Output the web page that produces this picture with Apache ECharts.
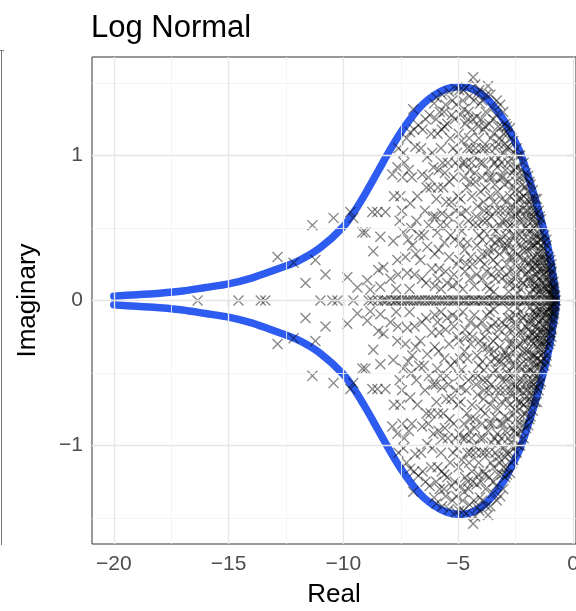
<!DOCTYPE html>
<html>
<head>
<meta charset="utf-8">
<script src="https://cdn.jsdelivr.net/npm/echarts@6/dist/echarts.min.js"></script>
<style>html,body{margin:0;padding:0;background:#fff}#c{width:576px;height:611px}</style>
</head>
<body>
<div id="c"></div>
<script>
// ---- data ----
var titleText = 'Log Normal';
var xTicks = [-20, -15, -10, -5, 0];
var yTicks = [-1, 0, 1];
var xMinor = [-17.5, -12.5, -7.5, -2.5];
var yMinor = [-1.5, -0.5, 0.5, 1.5];

// boundary curve (upper and lower branches)
var curveUpper = [[-20,0.03],[-19,0.04],[-18,0.05],[-17,0.065],[-16,0.09],[-15,0.115],[-14,0.155],[-13,0.21],[-12,0.27],[-11,0.365],[-10,0.51],[-9.5,0.62],[-9,0.75],[-8.5,0.89],[-8,1.03],[-7.5,1.16],[-7,1.27],[-6.5,1.36],[-6,1.42],[-5.5,1.46],[-5,1.475],[-4.6,1.47],[-4.2,1.445],[-3.8,1.40],[-3.4,1.33],[-3,1.24],[-2.6,1.12],[-2.3,1.02],[-2,0.88],[-1.7,0.73],[-1.43,0.58],[-1.2,0.44],[-1.0,0.30],[-0.87,0.17],[-0.78,0.08],[-0.72,0.0]];
var curveLower = [[-20,-0.03],[-19,-0.04],[-18,-0.05],[-17,-0.065],[-16,-0.09],[-15,-0.115],[-14,-0.155],[-13,-0.21],[-12,-0.27],[-11,-0.365],[-10,-0.51],[-9.5,-0.62],[-9,-0.75],[-8.5,-0.89],[-8,-1.03],[-7.5,-1.16],[-7,-1.27],[-6.5,-1.36],[-6,-1.42],[-5.5,-1.46],[-5,-1.475],[-4.6,-1.47],[-4.2,-1.445],[-3.8,-1.40],[-3.4,-1.33],[-3,-1.24],[-2.6,-1.12],[-2.3,-1.02],[-2,-0.88],[-1.7,-0.73],[-1.43,-0.58],[-1.2,-0.44],[-1.0,-0.30],[-0.87,-0.17],[-0.78,-0.08],[-0.72,0.0]];

// eigenvalues on the real axis
var realPts = [[-16.35,0],[-14.57,0],[-13.6,0],[-13.4,0],[-11.0,0],[-10.48,0],[-10.26,0],[-9.57,0],[-8.9,0],[-8.74,0],[-8.5,0],[-8.3,0],[-8.2,0],[-8.1,0],[-7.9,0],[-7.75,0],[-7.7,0],[-7.6,0],[-7.45,0],[-7.3,0],[-7.2,0],[-7.1,0],[-6.95,0],[-6.8,0],[-6.7,0],[-6.6,0],[-6.45,0],[-6.3,0],[-6.2,0],[-6.1,0],[-5.95,0],[-5.8,0],[-5.7,0],[-5.6,0],[-5.45,0],[-5.3,0],[-5.2,0],[-5.15,0],[-5.0,0],[-4.85,0],[-4.75,0],[-4.7,0],[-4.55,0],[-4.4,0],[-4.3,0],[-4.25,0],[-4.1,0],[-3.95,0],[-3.9,0],[-3.8,0],[-3.65,0],[-3.5,0],[-3.45,0],[-3.35,0],[-3.2,0],[-3.05,0],[-3.0,0],[-2.9,0],[-2.75,0],[-2.6,0],[-2.55,0],[-2.45,0],[-2.3,0],[-2.15,0],[-2.1,0],[-2.0,0],[-1.85,0],[-1.7,0],[-1.65,0],[-1.55,0],[-1.4,0],[-1.25,0],[-1.2,0],[-1.1,0],[-0.95,0],[-0.85,0],[-0.8,0],[-0.75,0]];

// complex eigenvalues, upper half-plane
var upperPts = [
[-12.87,0.30],[-12.17,0.26],[-11.22,0.28],[-11.35,0.52],[-11.65,0.12],[-10.78,0.18],[-10.43,0.57],[-9.83,0.16],[-9.70,0.61],[-9.57,0.57],[-9.39,0.09],[-9.17,0.47],[-8.83,0.075],[-8.74,0.61],[-8.70,0.34],[-8.48,0.21],
[-8.52,0.61],[-8.17,0.61],[-9.04,0.47],[-8.39,0.44],[-8.26,0.23],[-8.96,0.14],[-8.39,0.095],
[-7.65,0.92],[-7.87,0.87],[-7.43,0.85],[-7.52,0.72],[-7.09,0.67],[-7.83,0.41],[-7.39,0.47],[-7.65,0.28],[-7.22,0.19],[-7.39,1.02],[-7.09,1.16],[-7.95,0.15],[-7.7,0.08],[-7.55,0.55],[-7.3,0.3],[-7.15,0.9],[-7.8,0.72],[-7.25,1.12],[-7.6,1.05],[-7.05,0.5],
[-6.96,1.32],[-6.74,1.21],[-6.87,1.06],[-6.57,0.87],[-6.35,0.99],[-6.13,1.02],[-7.0,0.38],[-6.65,0.28],[-6.35,0.37],[-6.82,0.55],[-6.45,0.62],[-6.2,0.78],[-6.55,1.18],[-6.25,1.28],[-6.05,1.36],[-6.9,0.18],[-6.4,0.12],[-6.15,0.22],[-6.7,0.45],[-6.1,0.58],[-6.3,0.85],
[-5.91,0.47],[-5.95,1.40],[-5.8,1.30],[-5.7,1.42],[-5.55,1.35],[-5.4,1.44],[-5.25,1.38],[-5.1,1.46],[-5.9,1.15],[-5.75,1.05],[-5.6,1.2],[-5.35,1.12],[-5.15,1.25],[-5.05,1.02],[-5.85,0.9],[-5.65,0.78],[-5.45,0.95],[-5.2,0.85],[-5.95,0.7],[-5.7,0.6],[-5.5,0.52],[-5.3,0.68],[-5.1,0.62],[-5.85,0.35],[-5.6,0.4],[-5.4,0.3],[-5.15,0.42],[-5.9,0.15],[-5.55,0.2],[-5.25,0.1],[-5.05,0.25],[-5.75,0.08],
[-5.98,0.58],[-5.82,0.22],[-5.68,0.95],[-5.52,0.68],[-5.38,0.82],[-5.22,1.05],[-5.08,1.35],[-5.62,1.3],[-5.33,0.45],[-5.18,0.18],[-5.48,1.22],[-5.78,0.52],
[-4.95,1.45],[-4.8,1.38],[-4.65,1.47],[-4.5,1.41],[-4.35,1.54],[-4.26,1.49],[-4.15,1.43],[-4.05,1.36],[-4.9,1.28],[-4.7,1.22],[-4.55,1.3],[-4.4,1.18],[-4.2,1.27],[-4.85,1.1],[-4.6,1.05],[-4.3,1.0],[-4.1,1.12],[-4.95,0.92],[-4.75,0.85],[-4.5,0.9],[-4.25,0.82],[-4.05,0.95],[-4.9,0.7],[-4.65,0.62],[-4.4,0.72],[-4.15,0.65],[-4.85,0.48],[-4.6,0.4],[-4.35,0.52],[-4.1,0.45],[-4.95,0.28],[-4.7,0.2],[-4.45,0.3],[-4.2,0.18],[-4.8,0.08],[-4.3,0.1],[-4.05,0.28],
[-4.98,1.15],[-4.88,0.6],[-4.78,1.45],[-4.62,0.78],[-4.52,1.12],[-4.42,0.95],[-4.32,1.38],[-4.22,0.58],[-4.12,1.2],[-4.02,0.75],[-4.72,0.35],[-4.48,0.15],[-4.18,0.38],[-4.58,1.25],[-4.92,0.4],[-4.38,0.25],[-4.08,1.45],[-4.68,0.95],
[-3.95,1.38],[-3.7,1.48],[-3.6,1.42],[-3.8,1.3],[-3.5,1.33],[-3.35,1.28],[-3.17,1.35],[-3.04,1.3],[-3.1,1.2],[-3.9,1.18],[-3.65,1.22],[-3.45,1.15],[-3.25,1.08],[-3.85,1.05],[-3.55,0.98],[-3.3,0.92],[-3.05,1.02],[-3.95,0.85],[-3.7,0.9],[-3.4,0.8],[-3.15,0.85],[-3.9,0.68],[-3.6,0.72],[-3.35,0.62],[-3.1,0.7],[-3.75,0.55],[-3.5,0.5],[-3.2,0.52],[-3.95,0.42],[-3.65,0.35],[-3.4,0.4],[-3.05,0.38],[-3.85,0.25],[-3.55,0.18],[-3.3,0.25],[-3.1,0.15],[-3.75,0.1],[-3.45,0.06],[-3.95,0.15],[-3.2,0.32],
[-3.98,1.05],[-3.88,0.48],[-3.78,1.42],[-3.68,0.62],[-3.58,1.12],[-3.48,0.28],[-3.38,1.05],[-3.28,0.75],[-3.18,1.12],[-3.08,0.55],[-3.82,0.78],[-3.62,0.08],[-3.42,0.95],[-3.22,0.2],[-3.72,0.32],[-3.52,0.85],[-3.32,1.38],[-3.12,0.95],[-3.92,0.55],[-3.02,1.15],[-3.45,0.68],[-3.25,0.42],
[-2.95,1.22],[-2.85,1.15],[-2.74,1.19],[-2.6,1.1],[-2.45,1.05],[-2.3,1.0],[-2.15,0.95],[-2.05,0.88],[-2.9,1.05],[-2.7,0.98],[-2.5,0.92],[-2.35,0.85],[-2.2,0.8],[-2.95,0.9],[-2.8,0.82],[-2.6,0.78],[-2.4,0.7],[-2.1,0.68],[-2.9,0.68],[-2.7,0.62],[-2.5,0.58],[-2.3,0.55],[-2.05,0.5],[-2.85,0.5],[-2.65,0.45],[-2.45,0.4],[-2.25,0.38],[-2.95,0.35],[-2.75,0.3],[-2.55,0.25],[-2.35,0.22],[-2.15,0.28],[-2.9,0.18],[-2.7,0.12],[-2.5,0.1],[-2.2,0.12],[-2.05,0.18],[-2.8,0.06],[-2.4,0.05],[-2.6,0.35],[-2.35,0.62],[-2.15,0.42],[-2.55,0.75],[-2.25,0.9],[-2.75,0.72],
[-2.98,0.8],[-2.88,1.2],[-2.78,0.4],[-2.68,1.12],[-2.58,0.52],[-2.48,0.82],[-2.38,1.0],[-2.28,0.7],[-2.18,0.55],[-2.08,0.78],[-2.92,0.55],[-2.82,0.95],[-2.72,0.2],[-2.62,0.65],[-2.52,0.15],[-2.42,0.32],[-2.32,0.45],[-2.22,0.22],[-2.12,0.85],[-2.02,0.35],[-2.88,0.25],[-2.58,1.02],[-2.42,0.92],[-2.98,1.08],[-2.65,0.88],[-2.28,0.08],
[-1.95,0.86],[-1.85,0.8],[-1.75,0.76],[-1.65,0.7],[-1.57,0.70],[-1.5,0.62],[-1.4,0.56],[-1.35,0.47],[-1.25,0.45],[-1.15,0.38],[-1.09,0.21],[-1.05,0.3],[-1.9,0.68],[-1.8,0.62],[-1.7,0.58],[-1.6,0.52],[-1.45,0.45],[-1.3,0.36],[-1.2,0.28],[-1.95,0.55],[-1.85,0.48],[-1.75,0.42],[-1.65,0.38],[-1.55,0.32],[-1.4,0.3],[-1.3,0.22],[-1.15,0.15],[-1.9,0.35],[-1.8,0.28],[-1.7,0.22],[-1.6,0.18],[-1.5,0.15],[-1.35,0.12],[-1.25,0.08],[-1.1,0.06],[-1.95,0.2],[-1.85,0.12],[-1.75,0.08],[-1.6,0.05],[-1.45,0.06],[-1.55,0.4],[-1.7,0.5],[-1.95,0.42],[-1.25,0.18],[-1.4,0.22],
[-1.98,0.75],[-1.88,0.58],[-1.78,0.7],[-1.68,0.45],[-1.58,0.6],[-1.48,0.52],[-1.38,0.38],[-1.28,0.3],[-1.18,0.22],[-1.08,0.12],[-1.92,0.25],[-1.82,0.38],[-1.72,0.3],[-1.62,0.28],[-1.52,0.24],[-1.42,0.14],[-1.32,0.05],[-1.22,0.35],[-1.12,0.28],[-1.02,0.05],[-1.88,0.05],[-1.78,0.15],[-1.68,0.12],[-1.58,0.1],[-1.48,0.35],[-1.38,0.08],[-1.98,0.62],[-1.9,0.82],[-1.65,0.62],[-1.45,0.58],
[-0.98,0.22],[-0.92,0.15],[-0.88,0.1],[-0.82,0.06],[-0.95,0.08],[-0.78,0.03],[-1.0,0.12],[-0.9,0.04],
[-0.96,0.18],[-0.9,0.12],[-0.85,0.08],[-0.8,0.04],[-0.94,0.25],[-0.87,0.02]
];
var upperDense = [
[-4.45,1.05],[-4.28,0.88],[-4.14,0.52],[-4.0,1.25],[-3.92,0.95],[-3.86,0.62],[-3.76,0.2],[-3.66,1.05],[-3.56,0.58],[-3.46,1.25],[-3.36,0.48],[-3.26,1.2],[-3.16,0.62],[-3.06,0.85],[-3.96,0.32],[-3.58,0.42],[-3.38,0.15],[-3.14,0.42],[-3.84,1.2],[-3.64,0.85],[-3.44,0.35],[-3.24,0.98],
[-2.96,0.62],[-2.86,0.38],[-2.76,1.05],[-2.66,0.3],[-2.56,0.9],[-2.46,0.6],[-2.36,0.3],[-2.26,0.62],[-2.16,0.12],[-2.06,0.62],[-2.94,0.45],[-2.84,0.12],[-2.64,0.58],[-2.54,0.45],[-2.44,0.18],[-2.34,0.75],[-2.24,0.48],[-2.14,0.72],[-2.04,0.28],[-2.74,0.52],[-2.48,0.68],[-2.18,0.35],
[-1.97,0.48],[-1.87,0.7],[-1.77,0.55],[-1.67,0.25],[-1.57,0.45],[-1.47,0.28],[-1.37,0.2],[-1.27,0.4],[-1.17,0.32],[-1.07,0.18],[-1.93,0.15],[-1.83,0.22],[-1.73,0.38],[-1.63,0.08],[-1.53,0.55],[-1.43,0.42],[-1.33,0.28],[-1.23,0.12],[-1.13,0.08],[-1.03,0.22],[-1.76,0.65],[-1.56,0.2],[-1.36,0.42],[-1.16,0.42],
[-0.99,0.28],[-0.93,0.2],[-0.86,0.13],[-0.83,0.09],[-0.97,0.05]
];
var upperMid = [
[-7.45,0.62],[-7.35,0.95],[-7.18,0.42],[-7.02,0.85],[-6.92,1.18],[-6.85,0.32],[-6.78,0.72],[-6.62,1.05],[-6.5,0.45],[-6.42,1.25],[-6.38,0.78],[-6.28,0.52],[-6.18,1.15],[-6.08,0.92],[-6.02,0.32],[-5.96,1.25],[-5.88,0.78],[-5.72,1.18],[-5.58,0.88],[-5.42,0.58],[-5.28,1.28],[-5.12,0.95],[-5.02,0.72],[-4.96,0.52],[-4.82,0.95],[-4.74,1.32],[-4.56,0.55],[-4.46,0.82],[-4.36,1.25],[-4.24,1.05],[-7.62,0.18],[-7.12,0.08],[-6.58,0.15],[-6.02,0.1],[-5.48,0.12],[-5.02,0.12],[-4.62,0.25]
];

// complex eigenvalues, lower half-plane
var lowerPts = [
[-12.87,-0.30],[-12.17,-0.26],[-11.22,-0.28],[-11.35,-0.52],[-11.65,-0.12],[-10.78,-0.18],[-10.43,-0.57],[-9.83,-0.16],[-9.70,-0.61],[-9.57,-0.57],[-9.39,-0.09],[-9.17,-0.47],[-8.83,-0.075],[-8.74,-0.61],[-8.70,-0.34],[-8.48,-0.21],
[-8.52,-0.61],[-8.17,-0.61],[-9.04,-0.47],[-8.39,-0.44],[-8.26,-0.23],[-8.96,-0.14],[-8.39,-0.095],
[-7.65,-0.92],[-7.87,-0.87],[-7.43,-0.85],[-7.52,-0.72],[-7.09,-0.67],[-7.83,-0.41],[-7.39,-0.47],[-7.65,-0.28],[-7.22,-0.19],[-7.39,-1.02],[-7.09,-1.16],[-7.95,-0.15],[-7.7,-0.08],[-7.55,-0.55],[-7.3,-0.3],[-7.15,-0.9],[-7.8,-0.72],[-7.25,-1.12],[-7.6,-1.05],[-7.05,-0.5],
[-6.96,-1.32],[-6.74,-1.21],[-6.87,-1.06],[-6.57,-0.87],[-6.35,-0.99],[-6.13,-1.02],[-7.0,-0.38],[-6.65,-0.28],[-6.35,-0.37],[-6.82,-0.55],[-6.45,-0.62],[-6.2,-0.78],[-6.55,-1.18],[-6.25,-1.28],[-6.05,-1.36],[-6.9,-0.18],[-6.4,-0.12],[-6.15,-0.22],[-6.7,-0.45],[-6.1,-0.58],[-6.3,-0.85],
[-5.91,-0.47],[-5.95,-1.40],[-5.8,-1.30],[-5.7,-1.42],[-5.55,-1.35],[-5.4,-1.44],[-5.25,-1.38],[-5.1,-1.46],[-5.9,-1.15],[-5.75,-1.05],[-5.6,-1.2],[-5.35,-1.12],[-5.15,-1.25],[-5.05,-1.02],[-5.85,-0.9],[-5.65,-0.78],[-5.45,-0.95],[-5.2,-0.85],[-5.95,-0.7],[-5.7,-0.6],[-5.5,-0.52],[-5.3,-0.68],[-5.1,-0.62],[-5.85,-0.35],[-5.6,-0.4],[-5.4,-0.3],[-5.15,-0.42],[-5.9,-0.15],[-5.55,-0.2],[-5.25,-0.1],[-5.05,-0.25],[-5.75,-0.08],
[-5.98,-0.58],[-5.82,-0.22],[-5.68,-0.95],[-5.52,-0.68],[-5.38,-0.82],[-5.22,-1.05],[-5.08,-1.35],[-5.62,-1.3],[-5.33,-0.45],[-5.18,-0.18],[-5.48,-1.22],[-5.78,-0.52],
[-4.95,-1.45],[-4.8,-1.38],[-4.65,-1.47],[-4.5,-1.41],[-4.35,-1.54],[-4.26,-1.49],[-4.15,-1.43],[-4.05,-1.36],[-4.9,-1.28],[-4.7,-1.22],[-4.55,-1.3],[-4.4,-1.18],[-4.2,-1.27],[-4.85,-1.1],[-4.6,-1.05],[-4.3,-1.0],[-4.1,-1.12],[-4.95,-0.92],[-4.75,-0.85],[-4.5,-0.9],[-4.25,-0.82],[-4.05,-0.95],[-4.9,-0.7],[-4.65,-0.62],[-4.4,-0.72],[-4.15,-0.65],[-4.85,-0.48],[-4.6,-0.4],[-4.35,-0.52],[-4.1,-0.45],[-4.95,-0.28],[-4.7,-0.2],[-4.45,-0.3],[-4.2,-0.18],[-4.8,-0.08],[-4.3,-0.1],[-4.05,-0.28],
[-4.98,-1.15],[-4.88,-0.6],[-4.78,-1.45],[-4.62,-0.78],[-4.52,-1.12],[-4.42,-0.95],[-4.32,-1.38],[-4.22,-0.58],[-4.12,-1.2],[-4.02,-0.75],[-4.72,-0.35],[-4.48,-0.15],[-4.18,-0.38],[-4.58,-1.25],[-4.92,-0.4],[-4.38,-0.25],[-4.08,-1.45],[-4.68,-0.95],
[-3.95,-1.38],[-3.7,-1.48],[-3.6,-1.42],[-3.8,-1.3],[-3.5,-1.33],[-3.35,-1.28],[-3.17,-1.35],[-3.04,-1.3],[-3.1,-1.2],[-3.9,-1.18],[-3.65,-1.22],[-3.45,-1.15],[-3.25,-1.08],[-3.85,-1.05],[-3.55,-0.98],[-3.3,-0.92],[-3.05,-1.02],[-3.95,-0.85],[-3.7,-0.9],[-3.4,-0.8],[-3.15,-0.85],[-3.9,-0.68],[-3.6,-0.72],[-3.35,-0.62],[-3.1,-0.7],[-3.75,-0.55],[-3.5,-0.5],[-3.2,-0.52],[-3.95,-0.42],[-3.65,-0.35],[-3.4,-0.4],[-3.05,-0.38],[-3.85,-0.25],[-3.55,-0.18],[-3.3,-0.25],[-3.1,-0.15],[-3.75,-0.1],[-3.45,-0.06],[-3.95,-0.15],[-3.2,-0.32],
[-3.98,-1.05],[-3.88,-0.48],[-3.78,-1.42],[-3.68,-0.62],[-3.58,-1.12],[-3.48,-0.28],[-3.38,-1.05],[-3.28,-0.75],[-3.18,-1.12],[-3.08,-0.55],[-3.82,-0.78],[-3.62,-0.08],[-3.42,-0.95],[-3.22,-0.2],[-3.72,-0.32],[-3.52,-0.85],[-3.32,-1.38],[-3.12,-0.95],[-3.92,-0.55],[-3.02,-1.15],[-3.45,-0.68],[-3.25,-0.42],
[-2.95,-1.22],[-2.85,-1.15],[-2.74,-1.19],[-2.6,-1.1],[-2.45,-1.05],[-2.3,-1.0],[-2.15,-0.95],[-2.05,-0.88],[-2.9,-1.05],[-2.7,-0.98],[-2.5,-0.92],[-2.35,-0.85],[-2.2,-0.8],[-2.95,-0.9],[-2.8,-0.82],[-2.6,-0.78],[-2.4,-0.7],[-2.1,-0.68],[-2.9,-0.68],[-2.7,-0.62],[-2.5,-0.58],[-2.3,-0.55],[-2.05,-0.5],[-2.85,-0.5],[-2.65,-0.45],[-2.45,-0.4],[-2.25,-0.38],[-2.95,-0.35],[-2.75,-0.3],[-2.55,-0.25],[-2.35,-0.22],[-2.15,-0.28],[-2.9,-0.18],[-2.7,-0.12],[-2.5,-0.1],[-2.2,-0.12],[-2.05,-0.18],[-2.8,-0.06],[-2.4,-0.05],[-2.6,-0.35],[-2.35,-0.62],[-2.15,-0.42],[-2.55,-0.75],[-2.25,-0.9],[-2.75,-0.72],
[-2.98,-0.8],[-2.88,-1.2],[-2.78,-0.4],[-2.68,-1.12],[-2.58,-0.52],[-2.48,-0.82],[-2.38,-1.0],[-2.28,-0.7],[-2.18,-0.55],[-2.08,-0.78],[-2.92,-0.55],[-2.82,-0.95],[-2.72,-0.2],[-2.62,-0.65],[-2.52,-0.15],[-2.42,-0.32],[-2.32,-0.45],[-2.22,-0.22],[-2.12,-0.85],[-2.02,-0.35],[-2.88,-0.25],[-2.58,-1.02],[-2.42,-0.92],[-2.98,-1.08],[-2.65,-0.88],[-2.28,-0.08],
[-1.95,-0.86],[-1.85,-0.8],[-1.75,-0.76],[-1.65,-0.7],[-1.57,-0.70],[-1.5,-0.62],[-1.4,-0.56],[-1.35,-0.47],[-1.25,-0.45],[-1.15,-0.38],[-1.09,-0.21],[-1.05,-0.3],[-1.9,-0.68],[-1.8,-0.62],[-1.7,-0.58],[-1.6,-0.52],[-1.45,-0.45],[-1.3,-0.36],[-1.2,-0.28],[-1.95,-0.55],[-1.85,-0.48],[-1.75,-0.42],[-1.65,-0.38],[-1.55,-0.32],[-1.4,-0.3],[-1.3,-0.22],[-1.15,-0.15],[-1.9,-0.35],[-1.8,-0.28],[-1.7,-0.22],[-1.6,-0.18],[-1.5,-0.15],[-1.35,-0.12],[-1.25,-0.08],[-1.1,-0.06],[-1.95,-0.2],[-1.85,-0.12],[-1.75,-0.08],[-1.6,-0.05],[-1.45,-0.06],[-1.55,-0.4],[-1.7,-0.5],[-1.95,-0.42],[-1.25,-0.18],[-1.4,-0.22],
[-1.98,-0.75],[-1.88,-0.58],[-1.78,-0.7],[-1.68,-0.45],[-1.58,-0.6],[-1.48,-0.52],[-1.38,-0.38],[-1.28,-0.3],[-1.18,-0.22],[-1.08,-0.12],[-1.92,-0.25],[-1.82,-0.38],[-1.72,-0.3],[-1.62,-0.28],[-1.52,-0.24],[-1.42,-0.14],[-1.32,-0.05],[-1.22,-0.35],[-1.12,-0.28],[-1.02,-0.05],[-1.88,-0.05],[-1.78,-0.15],[-1.68,-0.12],[-1.58,-0.1],[-1.48,-0.35],[-1.38,-0.08],[-1.98,-0.62],[-1.9,-0.82],[-1.65,-0.62],[-1.45,-0.58],
[-0.98,-0.22],[-0.92,-0.15],[-0.88,-0.1],[-0.82,-0.06],[-0.95,-0.08],[-0.78,-0.03],[-1.0,-0.12],[-0.9,-0.04],
[-0.96,-0.18],[-0.9,-0.12],[-0.85,-0.08],[-0.8,-0.04],[-0.94,-0.25],[-0.87,-0.02]
];
var lowerDense = [
[-4.45,-1.05],[-4.28,-0.88],[-4.14,-0.52],[-4.0,-1.25],[-3.92,-0.95],[-3.86,-0.62],[-3.76,-0.2],[-3.66,-1.05],[-3.56,-0.58],[-3.46,-1.25],[-3.36,-0.48],[-3.26,-1.2],[-3.16,-0.62],[-3.06,-0.85],[-3.96,-0.32],[-3.58,-0.42],[-3.38,-0.15],[-3.14,-0.42],[-3.84,-1.2],[-3.64,-0.85],[-3.44,-0.35],[-3.24,-0.98],
[-2.96,-0.62],[-2.86,-0.38],[-2.76,-1.05],[-2.66,-0.3],[-2.56,-0.9],[-2.46,-0.6],[-2.36,-0.3],[-2.26,-0.62],[-2.16,-0.12],[-2.06,-0.62],[-2.94,-0.45],[-2.84,-0.12],[-2.64,-0.58],[-2.54,-0.45],[-2.44,-0.18],[-2.34,-0.75],[-2.24,-0.48],[-2.14,-0.72],[-2.04,-0.28],[-2.74,-0.52],[-2.48,-0.68],[-2.18,-0.35],
[-1.97,-0.48],[-1.87,-0.7],[-1.77,-0.55],[-1.67,-0.25],[-1.57,-0.45],[-1.47,-0.28],[-1.37,-0.2],[-1.27,-0.4],[-1.17,-0.32],[-1.07,-0.18],[-1.93,-0.15],[-1.83,-0.22],[-1.73,-0.38],[-1.63,-0.08],[-1.53,-0.55],[-1.43,-0.42],[-1.33,-0.28],[-1.23,-0.12],[-1.13,-0.08],[-1.03,-0.22],[-1.76,-0.65],[-1.56,-0.2],[-1.36,-0.42],[-1.16,-0.42],
[-0.99,-0.28],[-0.93,-0.2],[-0.86,-0.13],[-0.83,-0.09],[-0.97,-0.05]
];
var lowerMid = [
[-7.45,-0.62],[-7.35,-0.95],[-7.18,-0.42],[-7.02,-0.85],[-6.92,-1.18],[-6.85,-0.32],[-6.78,-0.72],[-6.62,-1.05],[-6.5,-0.45],[-6.42,-1.25],[-6.38,-0.78],[-6.28,-0.52],[-6.18,-1.15],[-6.08,-0.92],[-6.02,-0.32],[-5.96,-1.25],[-5.88,-0.78],[-5.72,-1.18],[-5.58,-0.88],[-5.42,-0.58],[-5.28,-1.28],[-5.12,-0.95],[-5.02,-0.72],[-4.96,-0.52],[-4.82,-0.95],[-4.74,-1.32],[-4.56,-0.55],[-4.46,-0.82],[-4.36,-1.25],[-4.24,-1.05],[-7.62,-0.18],[-7.12,-0.08],[-6.58,-0.15],[-6.02,-0.1],[-5.48,-0.12],[-5.02,-0.12],[-4.62,-0.25]
];

// ---- chart ----
var crossPath = 'path://M0,0.9L0.9,0L5,4.1L9.1,0L10,0.9L5.9,5L10,9.1L9.1,10L5,5.9L0.9,10L0,9.1L4.1,5Z';
var fontFam = '"Liberation Sans", Arial, Helvetica, sans-serif';
function fmt(v) { return String(v).replace('-', '\u2212'); }

var chart = echarts.init(document.getElementById('c'), null, { renderer: 'canvas' });
var markMajor = [];
xTicks.forEach(function (v) { markMajor.push({ xAxis: v }); });
yTicks.forEach(function (v) { markMajor.push({ yAxis: v }); });
var markMinor = [];
xMinor.forEach(function (v) { markMinor.push({ xAxis: v }); });
yMinor.forEach(function (v) { markMinor.push({ yAxis: v }); });

var scatterStyle = { color: 'rgba(0,0,0,0.58)' };
function crossSeries(d) {
  return { type: 'scatter', data: d, symbol: crossPath, symbolSize: 11, itemStyle: scatterStyle, z: 3, silent: true };
}

chart.setOption({
  animation: false,
  backgroundColor: '#ffffff',
  title: {
    text: titleText, left: 86, top: 8,
    textStyle: { fontFamily: fontFam, fontSize: 31, fontWeight: 'normal', color: '#000' }
  },
  grid: { left: 92, top: 57, right: 0, bottom: 67, outerBoundsMode: 'none', containLabel: false,
    show: true, borderColor: '#333333', borderWidth: 1, backgroundColor: '#fff' },
  xAxis: {
    type: 'value', min: -20.95, max: 0.13,
    name: 'Real', nameLocation: 'middle', nameGap: 38,
    nameTextStyle: { fontFamily: fontFam, fontSize: 26, color: '#000' },
    axisLine: { show: false },
    axisTick: { show: true, length: 6, lineStyle: { color: '#333', width: 1.2 }, customValues: xTicks },
    axisLabel: { show: true, margin: 10, fontFamily: fontFam, fontSize: 21, color: '#4d4d4d', customValues: xTicks, formatter: fmt },
    splitLine: { show: false }
  },
  yAxis: {
    type: 'value', min: -1.68, max: 1.68,
    name: 'Imaginary', nameLocation: 'middle', nameGap: 51, nameRotate: 90,
    nameTextStyle: { fontFamily: fontFam, fontSize: 26, color: '#000' },
    axisLine: { show: false },
    axisTick: { show: true, length: 6, lineStyle: { color: '#333', width: 1.2 }, customValues: yTicks },
    axisLabel: { show: true, margin: 9, fontFamily: fontFam, fontSize: 21, color: '#4d4d4d', customValues: yTicks, formatter: fmt },
    splitLine: { show: false }
  },
  graphic: [
    { type: 'line', shape: { x1: 1.5, y1: 50, x2: 1.5, y2: 545 }, style: { stroke: '#777', lineWidth: 1 } },
    { type: 'line', shape: { x1: 0, y1: 50.5, x2: 4, y2: 50.5 }, style: { stroke: '#777', lineWidth: 1 } }
  ],
  series: [
    { type: 'line', data: [], silent: true, z: 1,
      markLine: { silent: true, symbol: ['none', 'none'], label: { show: false }, animation: false,
        lineStyle: { color: '#f3f3f3', width: 0.8, type: 'solid' }, data: markMinor } },
    { type: 'line', data: [], silent: true, z: 1,
      markLine: { silent: true, symbol: ['none', 'none'], label: { show: false }, animation: false,
        lineStyle: { color: '#e6e6e6', width: 1.3, type: 'solid' }, data: markMajor } },
    { type: 'line', data: curveUpper, smooth: 0.3, showSymbol: false, z: 2,
      lineStyle: { color: '#2f5cf0', width: 7.5, cap: 'round', join: 'round' } },
    { type: 'line', data: curveLower, smooth: 0.3, showSymbol: false, z: 2,
      lineStyle: { color: '#2f5cf0', width: 7.5, cap: 'round', join: 'round' } },
    crossSeries(upperPts),
    crossSeries(upperDense),
    crossSeries(upperMid),
    crossSeries(lowerPts),
    crossSeries(lowerDense),
    crossSeries(lowerMid),
    crossSeries(realPts)
  ]
});
</script>
</body>
</html>
